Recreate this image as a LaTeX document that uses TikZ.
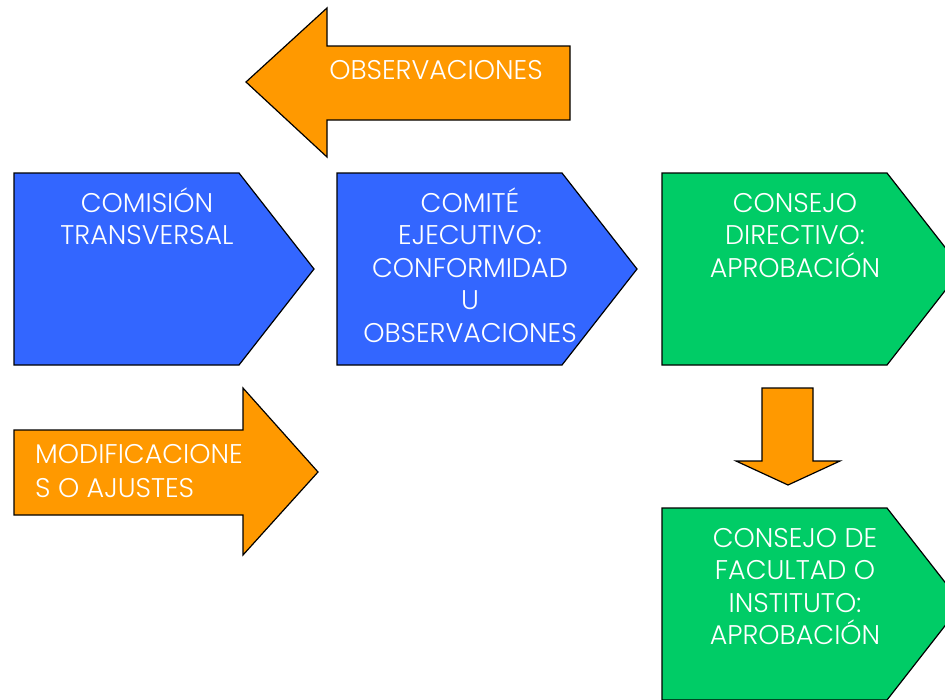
\documentclass[tikz,border=0pt]{standalone}
\usepackage{fontspec}
\setmainfont{Poppins}[UprightFont=* Light]
\usepackage{tikz}
\usetikzlibrary{calc}

\definecolor{azul}{RGB}{51,102,255}
\definecolor{verde}{RGB}{0,204,102}
\definecolor{naranja}{RGB}{255,153,0}

\newcommand{\alto}{\rule{0pt}{32pt}}

\tikzset{
  bloque/.style={draw=black,line width=1.2pt,line join=miter},
  rotulo/.style={text=white,font=\fontsize{27}{32.5}\selectfont,align=center,inner sep=0pt}
}

\begin{document}
\begin{tikzpicture}[x=1pt,y=-1pt]
  \useasboundingbox (0,0) rectangle (945,699);
  \clip (0,0) rectangle (945,699);

  %% Pentagon boxes (left x, top y, bottom y, colour)
  \foreach \nombre/\x/\ya/\yb/\col in {COM/14/173/365/azul,EJE/337/173/365/azul,DIR/662/173/365/verde,FAC/662/508/700/verde}
  {
    \coordinate (\nombre-tl) at (\x,\ya);
    \coordinate (\nombre-bl) at (\x,\yb);
    \coordinate (\nombre-tr) at ($(\x,\ya)+(225,0)$);
    \coordinate (\nombre-br) at ($(\x,\yb)+(225,0)$);
    \coordinate (\nombre-tip) at ($(\x,\ya)!0.5!(\x,\yb)+(300,0)$);
    \draw[bloque,fill=\col] (\nombre-tl) -- (\nombre-tr) -- (\nombre-tip)
      -- (\nombre-br) -- (\nombre-bl) -- cycle;
  }

  %% Block arrows
  \draw[bloque,fill=naranja] (246,82) -- (327,8) -- (327,46) -- (570,46)
    -- (570,120) -- (327,120) -- (327,157) -- cycle;
  \draw[bloque,fill=naranja] (14,430) -- (243,430) -- (243,388) -- (318,472)
    -- (243,555) -- (243,515) -- (14,515) -- cycle;
  \draw[bloque,fill=naranja] (762,388) -- (813,388) -- (813,461) -- (840,461)
    -- (788,485) -- (736,461) -- (762,461) -- cycle;

  %% Labels
  \node[rotulo,anchor=base] (obs) at (436,79) {OBSERVACIONES};
  \node[rotulo,anchor=north] (comision) at (147,180) {\alto COMISIÓN\\TRANSVERSAL};
  \node[rotulo,anchor=north] (comite) at (470,180) {\alto COMITÉ\\EJECUTIVO:\\CONFORMIDAD\\U\\OBSERVACIONES};
  \node[rotulo,anchor=north] (directivo) at (795,180) {\alto CONSEJO\\DIRECTIVO:\\APROBACIÓN};
  \node[rotulo,anchor=north] (facultad) at (795,515) {\alto CONSEJO DE\\FACULTAD O\\INSTITUTO:\\APROBACIÓN};
  \node[rotulo,anchor=north west,align=left,font=\fontsize{27}{34}\selectfont] (modif) at (35,431) {\alto MODIFICACIONE\\S O AJUSTES};
\end{tikzpicture}
\end{document}
